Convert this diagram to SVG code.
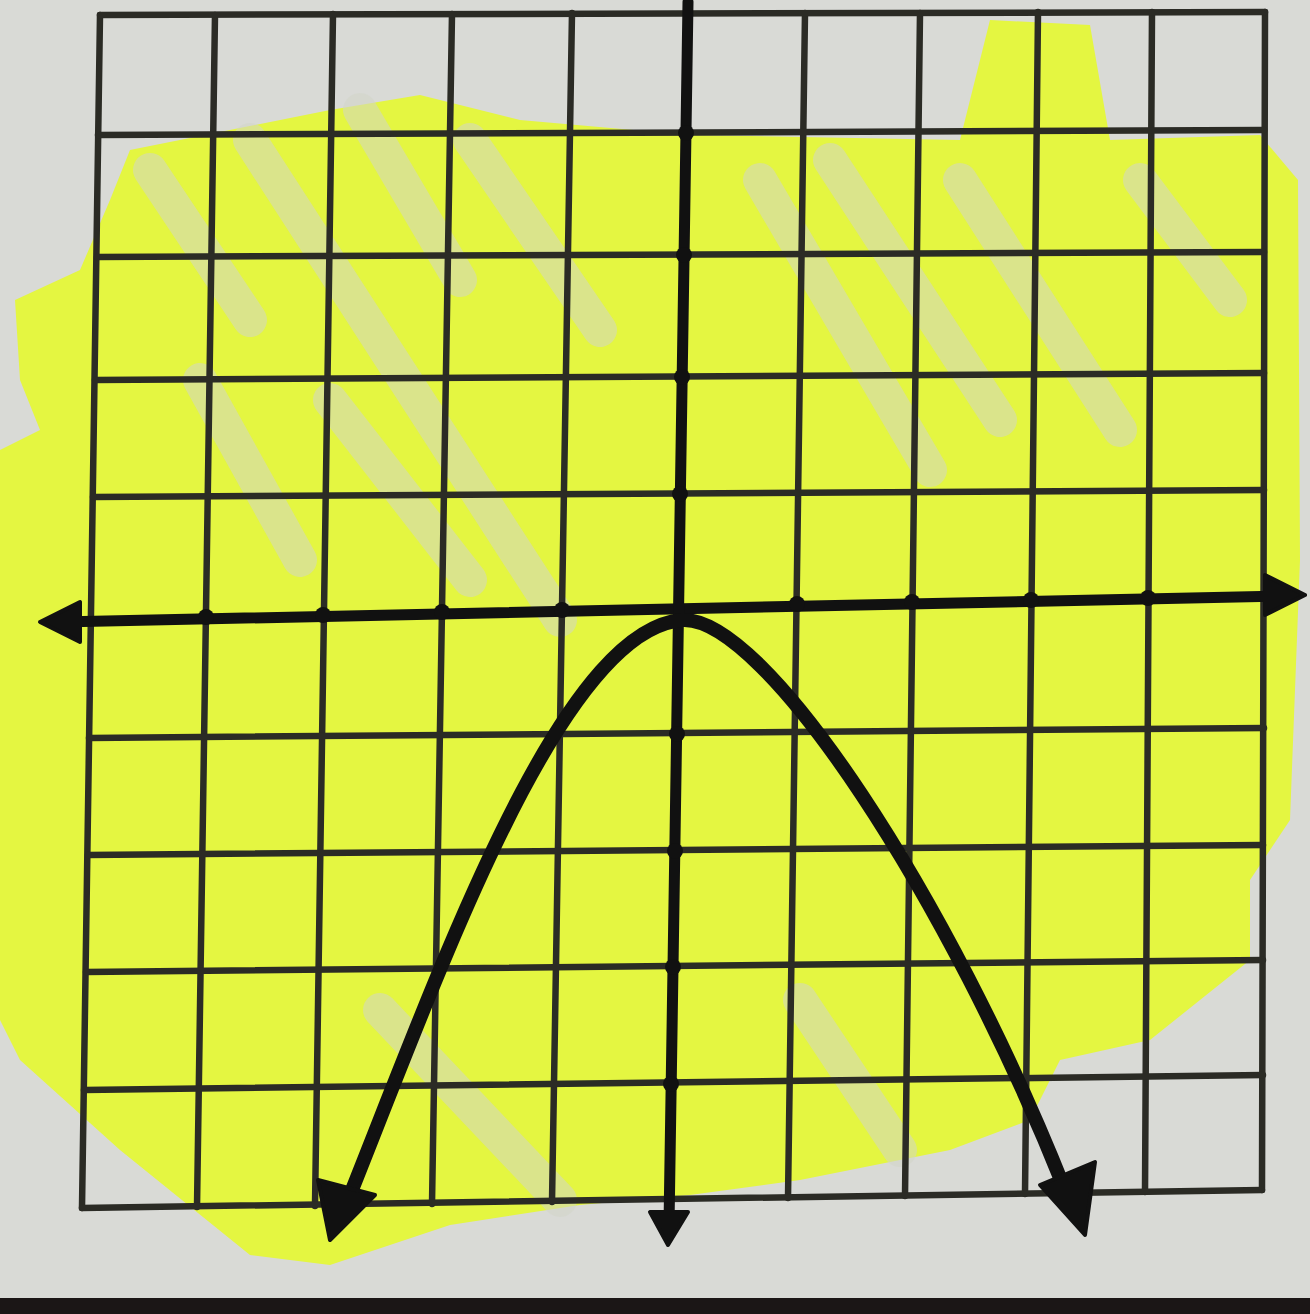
<svg xmlns="http://www.w3.org/2000/svg" width="1310" height="1314" viewBox="0 0 1310 1314">
<defs>
<style>
.grid{stroke:#2b2b25;stroke-width:6.5;fill:none;stroke-linecap:round}
.axis{stroke:#111;stroke-width:11;fill:none;stroke-linecap:round}
.curve{stroke:#111;stroke-width:14;fill:none;stroke-linecap:round}
.head{fill:#111;stroke:#111;stroke-width:4;stroke-linejoin:round}
.streak{stroke:#d2d5c8;stroke-width:34;stroke-linecap:round;opacity:0.55;fill:none}
.dot{fill:#111}
</style>
</defs>
<rect x="0" y="0" width="1310" height="1314" fill="#d9dad6"/>
<rect x="0" y="1298" width="1310" height="16" fill="#1b1616"/>
<g id="highlight">
<path d="M130 150 L330 110 L420 95 L520 120 L690 135 L960 140 L990 20 L1090 25 L1110 140 L1260 135 L1298 180 L1300 560 L1290 820 L1250 880 L1250 960 L1150 1040 L1060 1060 L1030 1120 L950 1150 L800 1180 L690 1195 L580 1205 L450 1225 L330 1265 L250 1255 L120 1150 L20 1060 L0 1020 L0 450 L40 430 L20 380 L15 300 L80 270 L110 200 Z" fill="#e4f641"/>
<path class="streak" d="M150 170 L250 320"/>
<path class="streak" d="M250 140 L560 620"/>
<path class="streak" d="M360 110 L460 280"/>
<path class="streak" d="M470 140 L600 330"/>
<path class="streak" d="M760 180 L930 470"/>
<path class="streak" d="M830 160 L1000 420"/>
<path class="streak" d="M960 180 L1120 430"/>
<path class="streak" d="M1140 180 L1230 300"/>
<path class="streak" d="M200 380 L300 560"/>
<path class="streak" d="M330 400 L470 580"/>
<path class="streak" d="M380 1010 L560 1200"/>
<path class="streak" d="M800 1000 L900 1150"/>
</g>
<g id="grid">
<line class="grid" x1="100" y1="15" x2="82" y2="1208"/>
<line class="grid" x1="215" y1="15" x2="197" y2="1207"/>
<line class="grid" x1="333" y1="14" x2="315" y2="1206"/>
<line class="grid" x1="452" y1="14" x2="432" y2="1204"/>
<line class="grid" x1="572" y1="13" x2="552" y2="1202"/>
<line class="grid" x1="805" y1="13" x2="788" y2="1198"/>
<line class="grid" x1="920" y1="13" x2="905" y2="1196"/>
<line class="grid" x1="1038" y1="12" x2="1025" y2="1194"/>
<line class="grid" x1="1152" y1="12" x2="1145" y2="1192"/>
<line class="grid" x1="1265" y1="12" x2="1262" y2="1190"/>
<line class="grid" x1="100" y1="15" x2="1265" y2="12"/>
<line class="grid" x1="98" y1="135" x2="1264" y2="130"/>
<line class="grid" x1="97" y1="257" x2="1264" y2="252"/>
<line class="grid" x1="95" y1="380" x2="1264" y2="373"/>
<line class="grid" x1="93" y1="497" x2="1264" y2="490"/>
<line class="grid" x1="89" y1="738" x2="1264" y2="728"/>
<line class="grid" x1="88" y1="855" x2="1263" y2="845"/>
<line class="grid" x1="86" y1="972" x2="1263" y2="960"/>
<line class="grid" x1="84" y1="1090" x2="1263" y2="1075"/>
<line class="grid" x1="82" y1="1208" x2="1262" y2="1190"/>
</g>
<g id="axes">
<line class="axis" x1="60" y1="622" x2="1285" y2="596"/>
<polygon class="head" points="40,622 80,602 80,642"/>
<polygon class="head" points="1305,595 1265,575 1265,615"/>
<line class="axis" x1="688" y1="2" x2="669" y2="1225"/>
<polygon class="head" points="668,1245 650,1212 688,1212"/>
<circle class="dot" cx="206" cy="617" r="8"/>
<circle class="dot" cx="323" cy="615" r="8"/>
<circle class="dot" cx="442" cy="612" r="8"/>
<circle class="dot" cx="562" cy="610" r="8"/>
<circle class="dot" cx="797" cy="604" r="8"/>
<circle class="dot" cx="912" cy="602" r="8"/>
<circle class="dot" cx="1031" cy="600" r="8"/>
<circle class="dot" cx="1148" cy="598" r="8"/>
<circle class="dot" cx="686" cy="133" r="8"/>
<circle class="dot" cx="684" cy="255" r="8"/>
<circle class="dot" cx="682" cy="377" r="8"/>
<circle class="dot" cx="680" cy="494" r="8"/>
<circle class="dot" cx="677" cy="734" r="8"/>
<circle class="dot" cx="675" cy="851" r="8"/>
<circle class="dot" cx="673" cy="967" r="8"/>
<circle class="dot" cx="671" cy="1084" r="8"/>
</g>
<g id="parabola">
<path class="curve" d="M350 1195 C440 970 560 630 682 620 C765 615 950 900 1065 1190"/>
<polygon class="head" points="330,1240 318,1180 375,1195"/>
<polygon class="head" points="1085,1235 1040,1185 1095,1162"/>
</g>
</svg>
